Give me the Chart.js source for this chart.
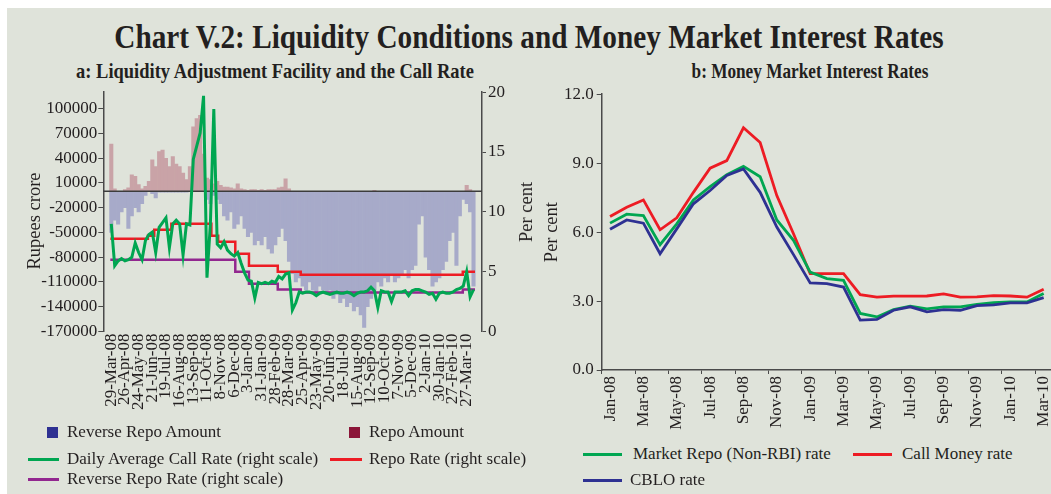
<!DOCTYPE html>
<html>
<head>
<meta charset="utf-8">
<script src="https://cdn.jsdelivr.net/npm/chart.js@4.4.0/dist/chart.umd.min.js"></script>
<style>
  html, body { margin: 0; padding: 0; background: #fff; width: 1051px; height: 494px; overflow: hidden; }
  #panel { position: absolute; left: 7px; top: 8px; right: 0; bottom: 0; background: #dfe3da; }
  .t { position: absolute; font-family: "Liberation Serif", "Times New Roman", serif; color: #231f20; white-space: nowrap; }
  #title { left: 529px; top: 19.5px; font-weight: bold; font-size: 34px; line-height: 34px; transform: translateX(-50%) scaleX(0.86); }
  .sub { top: 60.5px; font-weight: bold; font-size: 21px; line-height: 21px; transform: translateX(-50%) scaleX(0.88); }
  .ax { font-size: 18.5px; line-height: 20px; transform: translate(-50%, -50%) rotate(-90deg); }
  .lg { font-size: 17px; line-height: 20px; }
  .sw { position: absolute; }
  canvas { position: absolute; }
</style>
</head>
<body>
<div id="panel"></div>
<div class="t" id="title">Chart V.2: Liquidity Conditions and Money Market Interest Rates</div>
<div class="t sub" style="left:274.5px">a: Liquidity Adjustment Facility and the Call Rate</div>
<div class="t sub" style="left:810px;transform:translateX(-50%) scaleX(0.82)">b: Money Market Interest Rates</div>

<canvas id="lafChart" width="545" height="342" style="left:0;top:80px"></canvas>
<canvas id="mmChart" width="538" height="349" style="left:530px;top:81px"></canvas>
<div class="t ax" style="left:33.5px;top:221px">Rupees crore</div>
<div class="t ax" style="left:526px;top:211.5px">Per cent</div>

<!-- legend, panel a -->
<div class="sw" style="left:47px;top:426.5px;width:11px;height:11px;background:#2e3192"></div>
<div class="t lg" style="left:67px;top:422px">Reverse Repo Amount</div>
<div class="sw" style="left:349px;top:426.5px;width:11px;height:11px;background:#8b1538"></div>
<div class="t lg" style="left:369px;top:422px">Repo Amount</div>
<div class="sw" style="left:28px;top:457.5px;width:31px;height:3px;background:#00a651"></div>
<div class="t lg" style="left:67px;top:449px">Daily Average Call Rate (right scale)</div>
<div class="sw" style="left:330px;top:457.5px;width:32px;height:3px;background:#ed1c24"></div>
<div class="t lg" style="left:369px;top:449px">Repo Rate (right scale)</div>
<div class="sw" style="left:28px;top:477.5px;width:31px;height:3px;background:#92278f"></div>
<div class="t lg" style="left:67px;top:469px">Reverse Repo Rate (right scale)</div>

<!-- legend, panel b -->
<div class="sw" style="left:583px;top:452.5px;width:39px;height:3px;background:#00a651"></div>
<div class="t lg" style="left:633px;top:444px">Market Repo (Non-RBI) rate</div>
<div class="sw" style="left:853px;top:452.5px;width:39px;height:3px;background:#ed1c24"></div>
<div class="t lg" style="left:902px;top:444px">Call Money rate</div>
<div class="sw" style="left:583px;top:478.5px;width:39px;height:3px;background:#2e3192"></div>
<div class="t lg" style="left:630px;top:470px">CBLO rate</div>

<script>
// ---- panel a: weekly LAF amounts (Rupees crore) and call rate, from 29-Mar-08
var reverseRepoAmt = [-50000,-35000,-40000,-25000,-20000,-45000,-30000,-20000,-25000,-15000,
  -5000,0,-3000,-8000,-1000,-1000,-1000,-1000,-1000,-1000,
  -1000,-1000,-1000,0,0,0,0,0,-10000,-15000,
  -5000,-10000,-15000,-30000,-35000,-25000,-45000,-40000,-30000,-45000,
  -55000,-50000,-65000,-60000,-65000,-55000,-70000,-75000,-65000,-55000,
  -45000,-60000,-85000,-100000,-110000,-105000,-115000,-120000,-110000,-120000,
  -125000,-115000,-120000,-125000,-120000,-130000,-125000,-135000,-130000,-140000,
  -135000,-145000,-140000,-150000,-165000,-140000,-130000,-120000,-110000,-115000,
  -105000,-110000,-100000,-110000,-105000,-100000,-95000,-105000,-95000,-90000,
  -40000,-30000,-80000,-95000,-115000,-110000,-105000,-95000,-85000,-60000,
  -50000,-90000,-30000,-10000,-15000,-25000,-115000]
var repoAmt = [57000,3000,0,0,2000,4000,20000,18000,8000,3000,
  6000,12000,38000,30000,48000,50000,40000,30000,42000,33000,
  30000,22000,14000,30000,78000,88000,92000,45000,16000,14000,
  9000,12000,7000,5000,5000,4000,3000,9000,3000,2000,
  1000,2000,2000,1000,2000,1000,2000,2000,2000,4000,
  5000,15000,3000,0,0,0,0,0,0,0,
  0,0,0,0,0,0,0,0,0,0,
  0,0,0,0,0,0,0,1000,0,0,
  0,0,0,0,0,0,0,0,0,0,
  0,0,0,0,0,0,0,0,0,0,
  0,0,0,0,7000,2000,0]
var callRate = [9.0,5.5,5.9,6.1,5.9,6.0,6.2,7.4,6.6,6.0,
  7.6,8.1,8.3,6.6,8.7,9.1,9.5,7.0,9.0,9.3,
  9.0,6.4,9.0,8.9,14.4,15.5,16.6,19.7,4.5,9.0,
  18.6,7.3,7.0,7.5,6.8,6.5,6.3,6.6,5.7,4.9,
  4.3,4.2,2.8,4.1,4.0,4.1,4.0,4.2,4.1,4.6,
  4.4,4.8,4.9,1.8,2.4,3.3,3.2,3.3,3.3,3.2,
  3.0,3.2,3.3,3.2,3.1,3.2,3.3,3.2,3.2,3.3,
  3.2,3.0,3.2,3.3,3.3,3.4,3.7,3.4,2.0,3.4,
  3.3,3.3,2.5,3.3,3.3,3.3,3.4,3.0,3.4,3.5,
  3.5,3.4,3.3,3.1,3.2,2.7,3.2,3.3,3.2,3.2,
  3.3,3.5,3.6,3.8,5.0,2.9,3.5]
// policy rate changes (days after 29-Mar-08)
var repoRateDays = [-2, 75, 88, 123, 205, 219, 254, 282, 341, 388, 720, 745]
var repoRateVals = [7.75, 8.0, 8.5, 9.0, 8.0, 7.5, 6.5, 5.5, 5.0, 4.75, 5.0, 5.0]
var revRepoRateDays = [-2, 254, 282, 341, 388, 720, 745]
var revRepoRateVals = [6.0, 5.0, 4.0, 3.5, 3.25, 3.5, 3.5]
var xTickLabels = ['29-Mar-08','26-Apr-08','24-May-08','21-Jun-08','19-Jul-08','16-Aug-08','13-Sep-08',
  '11-Oct-08','8-Nov-08','6-Dec-08','3-Jan-09','31-Jan-09','28-Feb-09','28-Mar-09','25-Apr-09',
  '23-May-09','20-Jun-09','18-Jul-09','15-Aug-09','12-Sep-09','10-Oct-09','7-Nov-09','5-Dec-09',
  '2-Jan-10','30-Jan-10','27-Feb-10','27-Mar-10']
var amtTicks = [-170000,-140000,-110000,-80000,-50000,-20000,10000,40000,70000,100000]

// ---- panel b: monthly rates
var months = ['Jan-08','Feb-08','Mar-08','Apr-08','May-08','Jun-08','Jul-08','Aug-08','Sep-08',
  'Oct-08','Nov-08','Dec-08','Jan-09','Feb-09','Mar-09','Apr-09','May-09','Jun-09','Jul-09',
  'Aug-09','Sep-09','Oct-09','Nov-09','Dec-09','Jan-10','Feb-10','Mar-10']
var marketRepo = [6.39,6.78,6.72,5.45,6.36,7.40,7.98,8.50,8.86,8.41,6.53,5.64,4.26,3.98,3.90,
  2.46,2.31,2.63,2.78,2.66,2.75,2.75,2.86,2.93,2.96,2.96,3.33]
var callMoney = [6.68,7.08,7.40,6.10,6.62,7.73,8.78,9.11,10.54,9.90,7.59,5.93,4.19,4.19,4.19,
  3.28,3.17,3.21,3.21,3.22,3.31,3.17,3.18,3.24,3.22,3.17,3.51]
var cblo = [6.12,6.53,6.39,5.06,6.14,7.23,7.81,8.46,8.75,7.73,6.22,5.02,3.79,3.76,3.61,
  2.17,2.20,2.60,2.75,2.53,2.63,2.60,2.80,2.83,2.92,2.92,3.15]

Chart.defaults.font.family = '"Liberation Serif", "Times New Roman", serif'
Chart.defaults.font.size = 17
Chart.defaults.color = '#231f20'
var axisColor = '#4a4a4a'

function pts(xs, ys) { return xs.map(function (x, i) { return {x: x, y: ys[i]} }) }
var weekDays = callRate.map(function (v, i) { return i * 7 })

// dark zero line, drawn over the bars but under the rate lines
var zeroLine = {
  id: 'zeroLine',
  afterDatasetDraw: function (chart, args) {
    if (args.index !== 1) return
    var ctx = chart.ctx, a = chart.chartArea, y = chart.scales.y.getPixelForValue(0)
    ctx.save()
    ctx.strokeStyle = '#3c3c3c'
    ctx.lineWidth = 1.5
    ctx.beginPath(); ctx.moveTo(a.left, y); ctx.lineTo(a.right, y); ctx.stroke()
    ctx.restore()
  }
}

new Chart(document.getElementById('lafChart').getContext('2d'), {
  type: 'bar',
  data: {
    datasets: [
      {label: 'Reverse Repo Amount', data: pts(weekDays, reverseRepoAmt), backgroundColor: '#a7aac9',
        grouped: false, barPercentage: 1, categoryPercentage: 1, order: 5, yAxisID: 'y'},
      {label: 'Repo Amount', data: pts(weekDays, repoAmt), backgroundColor: '#c9a3a7',
        grouped: false, barPercentage: 1, categoryPercentage: 1, order: 4, yAxisID: 'y'},
      {type: 'line', label: 'Repo Rate (right scale)', data: pts(repoRateDays, repoRateVals), stepped: true,
        borderColor: '#ed1c24', borderWidth: 2.5, pointRadius: 0, order: 3, yAxisID: 'y1'},
      {type: 'line', label: 'Reverse Repo Rate (right scale)', data: pts(revRepoRateDays, revRepoRateVals), stepped: true,
        borderColor: '#92278f', borderWidth: 2.5, pointRadius: 0, order: 2, yAxisID: 'y1'},
      {type: 'line', label: 'Daily Average Call Rate (right scale)', data: pts(weekDays, callRate),
        borderColor: '#00a651', borderWidth: 3, pointRadius: 0, tension: 0, order: 1, yAxisID: 'y1'}
    ]
  },
  options: {
    responsive: false,
    animation: false,
    layout: {padding: {top: 11.5, left: 0, right: 0, bottom: 0}},
    plugins: {legend: {display: false}, tooltip: {enabled: false}},
    scales: {
      x: {
        type: 'linear', min: -2, max: 745,
        grid: {display: false, drawTicks: false},
        border: {display: false},
        afterBuildTicks: function (s) { s.ticks = xTickLabels.map(function (l, i) { return {value: i * 28} }) },
        afterFit: function (s) { s.height = 90.5 },
        ticks: {autoSkip: false, maxRotation: 90, minRotation: 90, padding: 2,
          callback: function (v, i) { return xTickLabels[i] }}
      },
      y: {
        position: 'left', min: -170000, max: 120000,
        grid: {drawOnChartArea: false, tickLength: 5, tickColor: axisColor},
        border: {color: axisColor, width: 1.5},
        afterBuildTicks: function (s) { s.ticks = amtTicks.map(function (v) { return {value: v} }) },
        afterFit: function (s) { s.width = 103.3 },
        ticks: {padding: 1, callback: function (v) { return String(v) }}
      },
      y1: {
        position: 'right', min: 0, max: 20,
        grid: {drawOnChartArea: false, tickLength: 4, tickColor: axisColor},
        border: {color: axisColor, width: 1.5},
        afterFit: function (s) { s.width = 63 },
        ticks: {stepSize: 5, padding: 2}
      }
    }
  },
  plugins: [zeroLine]
})

new Chart(document.getElementById('mmChart').getContext('2d'), {
  type: 'line',
  data: {
    labels: months,
    datasets: [
      {label: 'CBLO rate', data: cblo, borderColor: '#2e3192', borderWidth: 2.8, pointRadius: 0, tension: 0},
      {label: 'Market Repo (Non-RBI) rate', data: marketRepo, borderColor: '#00a651', borderWidth: 2.8, pointRadius: 0, tension: 0},
      {label: 'Call Money rate', data: callMoney, borderColor: '#ed1c24', borderWidth: 2.8, pointRadius: 0, tension: 0}
    ]
  },
  options: {
    responsive: false,
    animation: false,
    layout: {padding: {top: 12, left: 0, right: 16, bottom: 0}},
    plugins: {legend: {display: false}, tooltip: {enabled: false}},
    scales: {
      x: {
        offset: true,
        grid: {offset: true, drawOnChartArea: false, tickLength: 4,
          tickColor: function (c) { return (c.type === 'tick' && c.index % 2 === 0) ? axisColor : 'rgba(0,0,0,0)' }},
        border: {color: axisColor, width: 1.5},
        afterFit: function (s) { s.height = 60 },
        ticks: {autoSkip: false, maxRotation: 90, minRotation: 90, padding: 2,
          callback: function (v, i) { return i % 2 === 0 ? months[i] : '' }}
      },
      y: {
        min: 0, max: 12,
        grid: {drawOnChartArea: false, tickLength: 5, tickColor: axisColor},
        border: {color: axisColor, width: 1.5},
        afterFit: function (s) { s.width = 71.7 },
        ticks: {stepSize: 3, padding: 3, callback: function (v) { return v.toFixed(1) }},
        title: {display: true, text: 'Per cent', font: {size: 18.5}, padding: {top: 11, bottom: 0}}
      }
    }
  }
})
</script>
</body>
</html>
